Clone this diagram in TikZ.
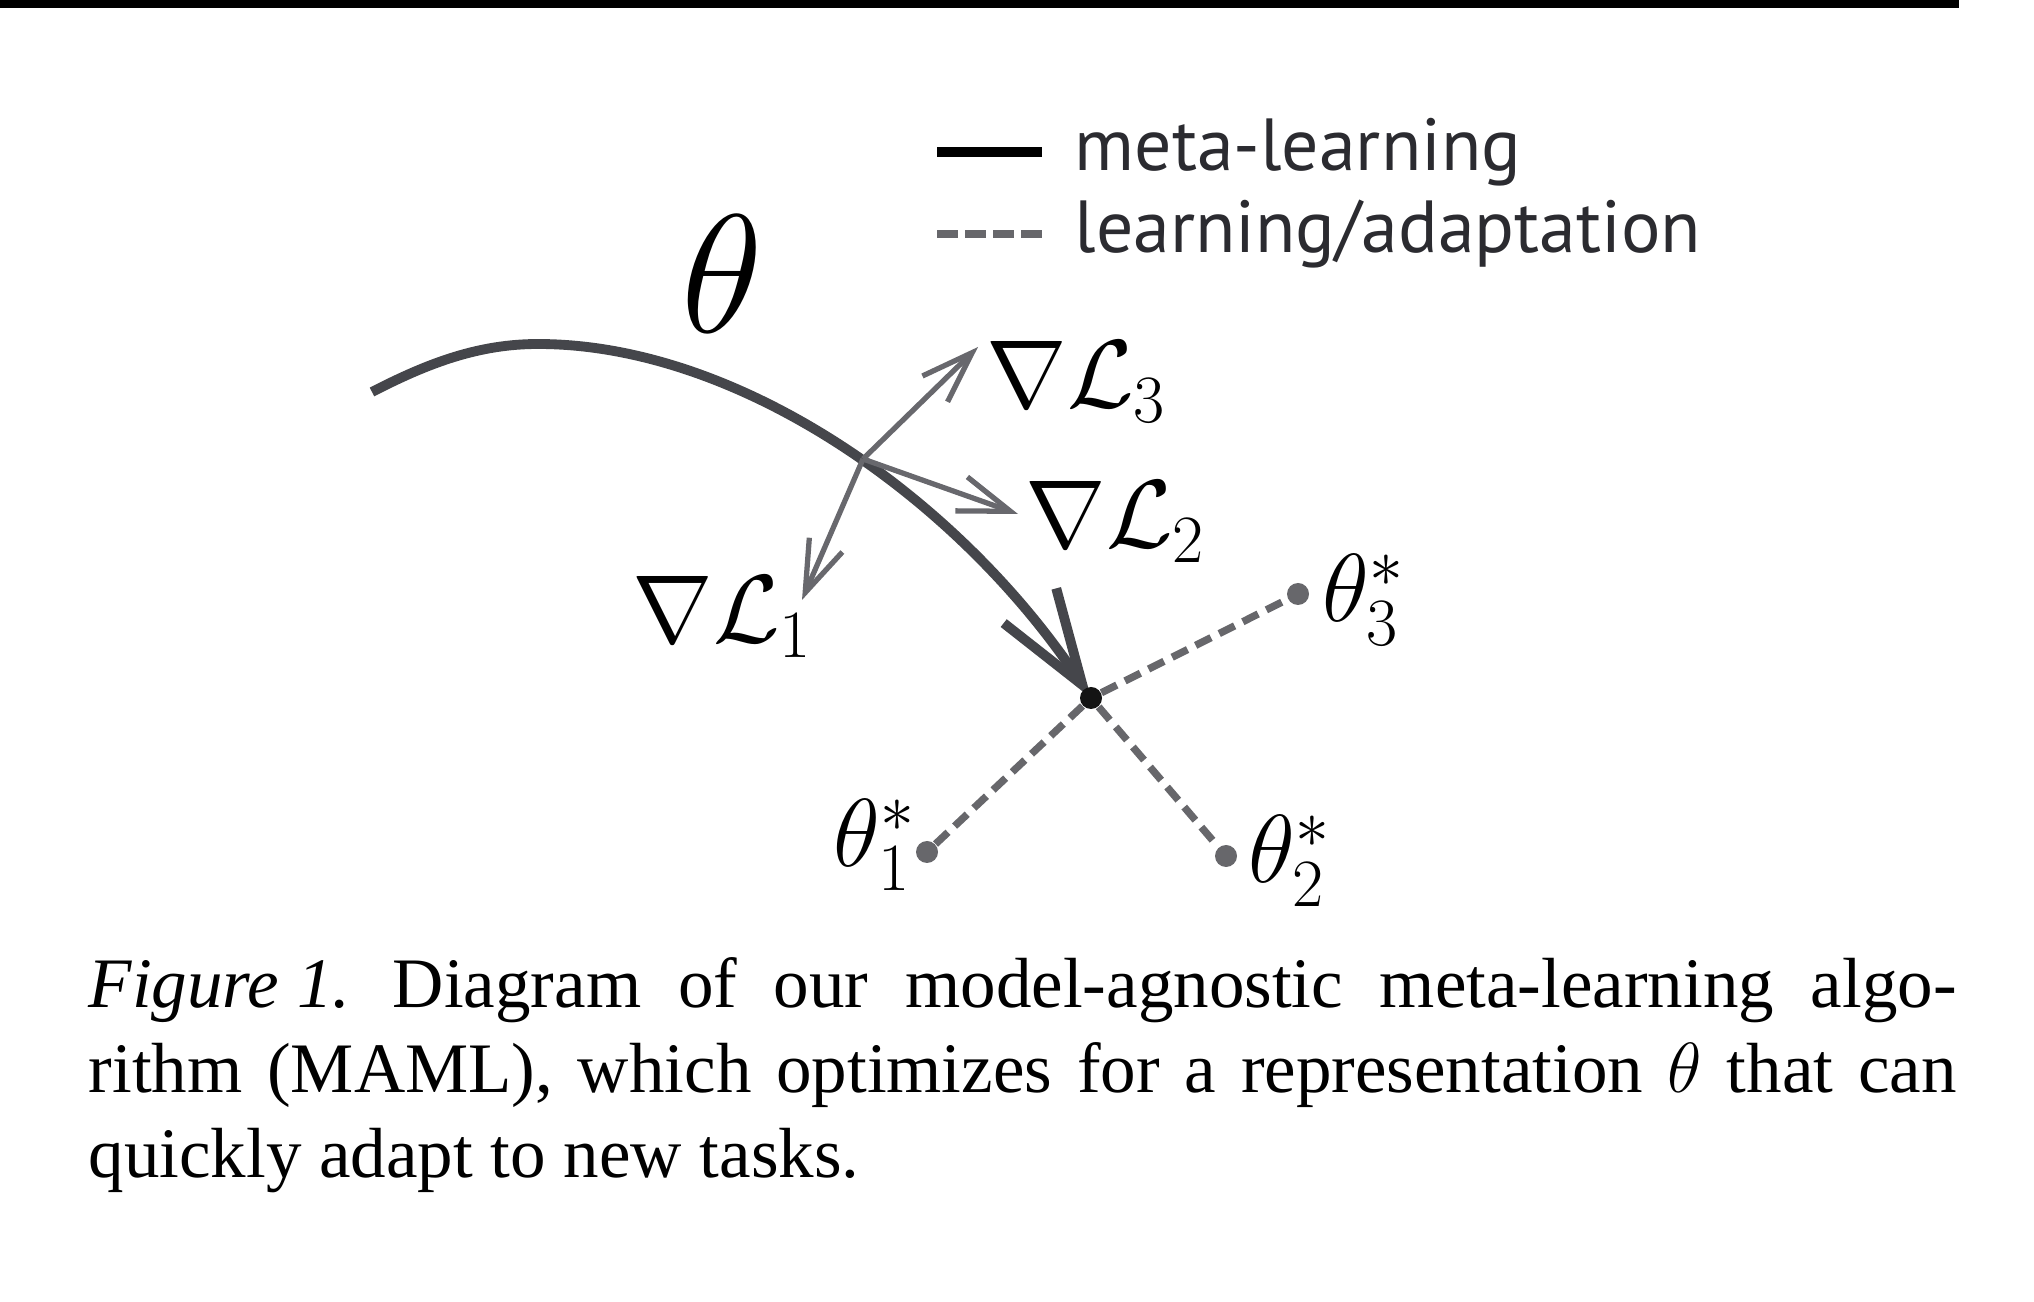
\documentclass[tikz,border=0pt]{standalone}
\usepackage{fix-cm}
\usepackage{fontspec}
\usepackage{amsmath}
\usetikzlibrary{arrows.meta,positioning,backgrounds}
\newfontfamily\legendfont{PT Sans}
\newfontfamily\captionfont{Liberation Serif}
\definecolor{metagray}{HTML}{45464B}
\definecolor{gradgray}{HTML}{68686D}
\definecolor{adaptgray}{HTML}{67676B}
\definecolor{legendtext}{HTML}{2B2B30}
\tikzset{
  metapath/.style={
    draw=metagray,
    line width=2.8pt,
    -{Straight Barb[length=9.5mm, width=6.3mm]}
  },
  gradarrow/.style={
    draw=gradgray,
    line width=1.5pt,
    -{Straight Barb[length=5.2mm, width=3.6mm]}
  },
  adaptpath/.style={draw=adaptgray, line width=2.1pt, dash pattern=on 4.9pt off 2.6pt},
  legmeta/.style={draw=black, line width=2.8pt},
  legadapt/.style={draw=adaptgray, line width=2pt, dash pattern=on 6pt off 2pt},
  optdot/.style={circle, fill=adaptgray, inner sep=0pt, minimum size=2.2mm},
  initdot/.style={circle, fill=black!92, inner sep=0pt, minimum size=2.2mm},
  mathlbl/.style={inner sep=0pt, font=\fontsize{27.5}{30}\selectfont},
  bigtheta/.style={inner sep=0pt, font=\fontsize{48}{52}\selectfont},
  legtext/.style={inner sep=0pt, text=legendtext, font=\legendfont\fontsize{21}{24}\selectfont},
  capbox/.style={
    inner sep=0pt,
    text width=18.68cm,
    align=justify,
    font=\captionfont\fontsize{20.2}{24.2}\selectfont
  }
}

\begin{document}
\begin{tikzpicture}[x=0.1mm, y=-0.1mm]
  \useasboundingbox (0,0) rectangle (2034,1302);
  \fill[black] (0,0) rectangle (1959,8);

  \coordinate (metaA) at (937,152);
  \coordinate (metaB) at (1042,152);
  \coordinate (adaptA) at (937,234);
  \coordinate (adaptB) at (1042,234);
  \draw[legmeta] (metaA) -- (metaB);
  \draw[legadapt] (adaptA) -- (adaptB);
  \node[legtext, right=3.2mm of metaB] (metalbl) {meta-learning};
  \node[legtext, right=3.2mm of adaptB] (adaptlbl) {learning/adaptation};

  \node[bigtheta, anchor=base west] (thetalbl) at (681,333) {$\theta$};

  \coordinate (init) at (372,392);
  \coordinate (cross) at (863,459);
  \node[initdot] (start) at (1091,698) {};
  \node[optdot] (opt1) at (927,852) {};
  \node[optdot] (opt2) at (1226,856) {};
  \node[optdot] (opt3) at (1298,594) {};

  \coordinate (grad1) at (802,600);
  \coordinate (grad2) at (1018,514);
  \coordinate (grad3) at (978,347);
  \node[mathlbl, anchor=base west] (g1lbl) at (632,643) {$\nabla\mathcal{L}_1$};
  \node[mathlbl, anchor=base west] (g2lbl) at (1025,548) {$\nabla\mathcal{L}_2$};
  \node[mathlbl, anchor=base west] (g3lbl) at (986,408) {$\nabla\mathcal{L}_3$};

  \node[mathlbl, anchor=base east] (opt1lbl) at (917,867) {$\theta_1^*$};
  \node[mathlbl, anchor=base west] (opt2lbl) at (1248,883) {$\theta_2^*$};
  \node[mathlbl, anchor=base west] (opt3lbl) at (1322,622) {$\theta_3^*$};

  \begin{scope}[on background layer]
    \draw[adaptpath] (start) -- (opt1);
    \draw[adaptpath] (start) -- (opt2);
    \draw[adaptpath] (start) -- (opt3);
    \draw[metapath] (init) .. controls (430,362) and (480,344) .. (538,344)
      .. controls (740,344) and (960,500) .. (start.center);
    \draw[gradarrow] (cross) -- (grad1);
    \draw[gradarrow] (cross) -- (grad2);
    \draw[gradarrow] (cross) -- (grad3);
  \end{scope}

  \node[capbox, anchor=base west] (caption) at (88,1007) {\mbox{\textit{Figure~1.}}\hspace{0.6em}Diagram of our model-agnostic meta-learning algo-\linebreak rithm (MAML), which optimizes for a representation $\theta$ that can\linebreak quickly adapt to new tasks.};
\end{tikzpicture}
\end{document}
